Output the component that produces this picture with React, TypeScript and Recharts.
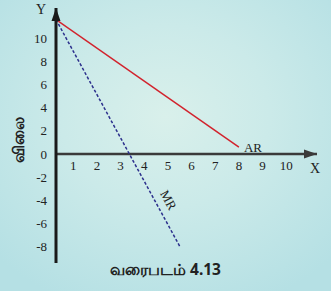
import React from 'react';
import {
  LineChart,
  Line,
  XAxis,
  YAxis,
  ReferenceLine,
  ReferenceDot,
} from 'recharts';

const arData = [
  { x: 0.27, y: 11.6 },
  { x: 8, y: 0.6 },
];

const mrData = [
  { x: 0.27, y: 11.6 },
  { x: 5.51, y: -8 },
];

const xTicks = [1, 2, 3, 4, 5, 6, 7, 8, 9, 10];
const yTicks = [-8, -6, -4, -2, 0, 2, 4, 6, 8, 10];

const X_MIN = 0.27;
const X_MAX = 11.3;
const Y_MIN = -9.4;
const Y_MAX = 12.6;

const serif = '"Liberation Serif", "DejaVu Serif", serif';

const UpArrow = (props: any) => {
  const { cx, cy } = props;
  return <path d={`M${cx},${cy} L${cx - 4.5},${cy + 13} L${cx + 4.5},${cy + 13} Z`} fill="#1a1a1a" />;
};

const RightArrow = (props: any) => {
  const { cx, cy } = props;
  return <path d={`M${cx},${cy} L${cx - 13},${cy - 4.5} L${cx - 13},${cy + 4.5} Z`} fill="#3a3a3a" />;
};

const MrLabel = (props: any) => {
  const { viewBox } = props;
  const x = viewBox.x;
  const y = viewBox.y;
  return (
    <text
      x={x}
      y={y}
      transform={`rotate(61.5, ${x}, ${y})`}
      fontFamily={serif}
      fontSize={13}
      fill="#222"
      textAnchor="middle"
    >
      MR
    </text>
  );
};

export default function App() {
  return (
    <div
      style={{
        position: 'absolute',
        left: 0,
        top: 0,
        width: 331,
        height: 291,
        background: 'radial-gradient(ellipse 70% 70% at 50% 40%, #d9f0eb 0%, #cbeae9 45%, #b5e0e4 100%)',
      }}
    >
      <LineChart
        width={331}
        height={291}
        margin={{ top: 8, right: 14, bottom: 28, left: 16 }}
      >
        <XAxis
          dataKey="x"
          type="number"
          domain={[X_MIN, X_MAX]}
          allowDataOverflow
          hide
        />
        <YAxis
          type="number"
          domain={[Y_MIN, Y_MAX]}
          ticks={yTicks}
          allowDataOverflow
          width={40}
          tickLine={false}
          tickSize={0}
          tickMargin={9}
          axisLine={{ stroke: '#1a1a1a', strokeWidth: 3 }}
          tick={{ fill: '#222', fontSize: 13, fontFamily: serif }}
        />
        <ReferenceLine y={0} stroke="#3a3a3a" strokeWidth={2.5} />
        <ReferenceDot x={X_MIN} y={Y_MAX} r={0} ifOverflow="visible" shape={UpArrow} />
        <ReferenceDot x={X_MAX} y={0} r={0} ifOverflow="visible" shape={RightArrow} />
        {xTicks.map((t) => (
          <ReferenceDot
            key={t}
            x={t}
            y={0}
            r={0}
            ifOverflow="visible"
            shape={() => <g />}
            label={{
              value: t,
              position: 'bottom',
              offset: 7,
              fill: '#222',
              fontSize: 13,
              fontFamily: serif,
            }}
          />
        ))}
        <Line
          data={arData}
          dataKey="y"
          stroke="#d2232d"
          strokeWidth={1.5}
          dot={false}
          isAnimationActive={false}
        />
        <Line
          data={mrData}
          dataKey="y"
          stroke="#2b2f8c"
          strokeWidth={1.5}
          strokeDasharray="3 2"
          dot={false}
          isAnimationActive={false}
        />
        <ReferenceDot
          x={8}
          y={0.6}
          r={0}
          ifOverflow="visible"
          shape={() => <g />}
          label={{ value: 'AR', position: 'right', offset: 5, fill: '#222', fontSize: 13, fontFamily: serif }}
        />
        <ReferenceDot
          x={4.86}
          y={-4.15}
          r={0}
          ifOverflow="visible"
          shape={() => <g />}
          label={<MrLabel />}
        />
      </LineChart>
      <div
        style={{
          position: 'absolute',
          left: 36,
          top: 2,
          fontFamily: serif,
          fontSize: 14,
          color: '#222',
        }}
      >
        Y
      </div>
      <div
        style={{
          position: 'absolute',
          left: 310,
          top: 161,
          fontFamily: serif,
          fontSize: 14,
          color: '#222',
        }}
      >
        X
      </div>
      <div
        style={{
          position: 'absolute',
          left: 18,
          top: 140,
          transform: 'translate(-50%, -50%) rotate(-90deg)',
          fontFamily: '"Noto Sans", sans-serif',
          fontWeight: 'bold',
          fontSize: 16,
          color: '#222',
          whiteSpace: 'nowrap',
        }}
      >
        விலை
      </div>
      <div
        style={{
          position: 'absolute',
          left: 0,
          width: 331,
          top: 258,
          textAlign: 'center',
          fontFamily: '"Noto Sans", sans-serif',
          fontWeight: 'bold',
          fontSize: 15.5,
          color: '#222',
        }}
      >
        வரைபடம் 4.13
      </div>
    </div>
  );
}
